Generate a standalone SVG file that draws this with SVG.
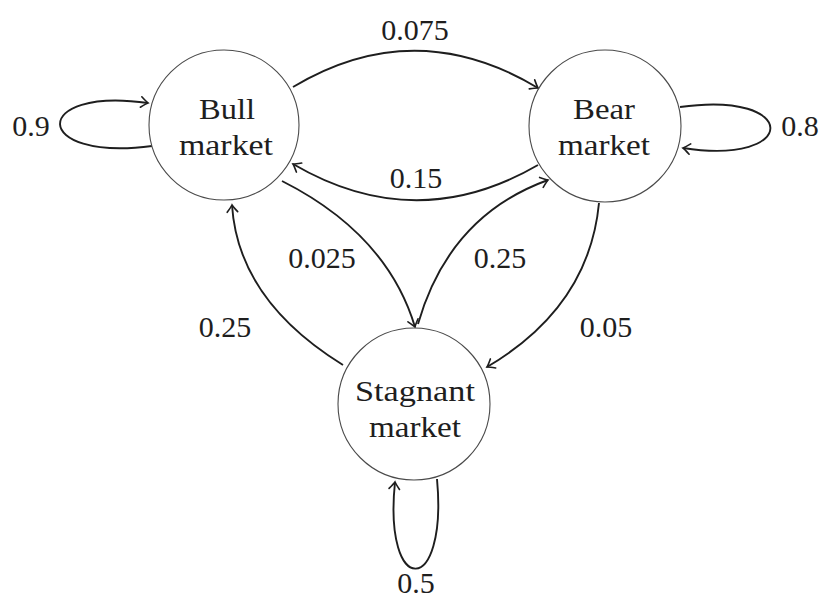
<svg xmlns="http://www.w3.org/2000/svg" width="821" height="600" viewBox="0 0 821 600">
  <style>
    .state { fill: #ffffff; stroke: #4a4a4a; stroke-width: 1.1; }
    .name { font-family: "Liberation Serif", "Times New Roman", serif; font-size: 30px; fill: #1e1e1e; text-anchor: middle; }
    .prob { font-family: "Liberation Serif", "Times New Roman", serif; font-size: 30px; fill: #1e1e1e; text-anchor: middle; }
    .edge { fill: none; stroke: #1e1e1e; stroke-width: 1.9; marker-end: url(#to); }
  </style>
  <defs>
    <marker id="to" markerUnits="userSpaceOnUse" markerWidth="14" markerHeight="14" viewBox="-8 -6 10 12" refX="0" refY="0" orient="auto">
      <path d="M-6,-4.5 Q-1.5,-0.8 0,0 Q-1.5,0.8 -6,4.5" fill="none" stroke="#1e1e1e" stroke-width="1.4" stroke-linecap="round"/>
    </marker>
  </defs>

  <!-- transitions -->
  <g id="connectors">
    <path class="edge" d="M293,87 Q415,14 538,88"/>
    <path class="edge" d="M538,165 Q416,236 293,164"/>
    <path class="edge" d="M282,181 Q387,234 415,327"/>
    <path class="edge" d="M418,324 Q449,216 548,180"/>
    <path class="edge" d="M343,365 Q238,300 232,205"/>
    <path class="edge" d="M599,203 Q589,307 487,367"/>
    <path class="edge" d="M152,146 C30,162 30,86 148,103"/>
    <path class="edge" d="M680,107 C800,90 800,166 683,148"/>
    <path class="edge" d="M437,479 C448,598 383,598 395,482"/>
  </g>

  <!-- transition probabilities -->
  <g id="labels">
    <text class="prob" x="415" y="40">0.075</text>
    <text class="prob" x="416" y="188">0.15</text>
    <text class="prob" x="322" y="268">0.025</text>
    <text class="prob" x="500" y="268">0.25</text>
    <text class="prob" x="225" y="337">0.25</text>
    <text class="prob" x="606" y="337">0.05</text>
    <text class="prob" x="31" y="136">0.9</text>
    <text class="prob" x="800" y="136">0.8</text>
    <text class="prob" x="416" y="593">0.5</text>
  </g>

  <g id="bull">
    <circle class="state" cx="224" cy="125" r="75"/>
    <text class="name" x="227" y="119" textLength="56" lengthAdjust="spacingAndGlyphs">Bull</text>
    <text class="name" x="226" y="155" textLength="94" lengthAdjust="spacingAndGlyphs">market</text>
  </g>

  <g id="bear">
    <circle class="state" cx="605" cy="126" r="76"/>
    <text class="name" x="604" y="119" textLength="62" lengthAdjust="spacingAndGlyphs">Bear</text>
    <text class="name" x="604" y="155" textLength="92" lengthAdjust="spacingAndGlyphs">market</text>
  </g>

  <g id="stagnant">
    <circle class="state" cx="414" cy="404" r="76"/>
    <text class="name" x="415" y="401" textLength="120" lengthAdjust="spacingAndGlyphs">Stagnant</text>
    <text class="name" x="415" y="437" textLength="92" lengthAdjust="spacingAndGlyphs">market</text>
  </g>
</svg>
